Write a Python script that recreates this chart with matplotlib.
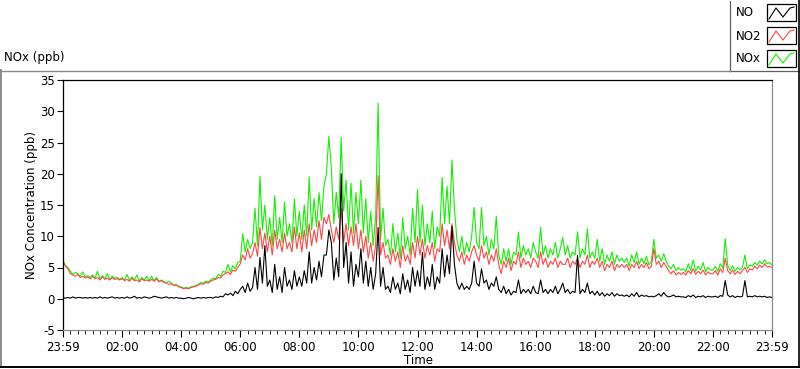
import numpy as np
import matplotlib
matplotlib.use('Agg')
import matplotlib.pyplot as plt
from matplotlib.lines import Line2D
from matplotlib.patches import Rectangle

plt.rcParams['font.family'] = ['DejaVu Sans']
plt.rcParams['axes.unicode_minus'] = False  # "-5" com hifen como no original

# concentracoes a cada 5 min, uma linha por hora (ppb)
no2 = [
    6.0, 5.2, 4.8, 4.0, 3.8, 3.6, 3.9, 3.4, 3.6, 3.3, 3.5, 3.2,
    3.6, 3.2, 3.4, 3.0, 3.5, 3.1, 3.3, 3.0, 3.4, 3.1, 3.2, 3.0,
    3.2, 2.9, 3.1, 2.8, 3.3, 2.9, 3.0, 2.7, 3.2, 2.9, 3.0, 2.8,
    3.1, 2.8, 3.2, 2.7, 2.9, 2.6, 2.5, 2.3, 2.4, 2.1, 2.2, 1.9,
    1.8, 1.6, 1.7, 1.6, 1.8, 1.9, 2.0, 2.2, 2.4, 2.3, 2.6, 2.5,
    2.8, 3.0, 3.1, 3.4, 3.3, 3.8, 4.0, 4.3, 3.9, 4.6, 4.4, 5.0,
    5.6, 7.0, 6.2, 8.0, 6.5, 7.2, 9.0, 6.8, 11.4, 8.0, 10.5, 7.5,
    10.0, 7.0, 11.0, 8.0, 9.5, 7.5, 10.5, 8.0, 9.0, 7.5, 11.5, 8.0,
    10.5, 7.5, 11.0, 8.0, 12.0, 8.5, 11.0, 9.0, 12.5, 9.5, 13.0, 12.0,
    13.5, 11.0, 9.0, 11.5, 9.5, 14.5, 9.0, 12.0, 8.5, 11.5, 8.5, 12.0,
    8.0, 11.0, 7.5, 10.0, 6.5, 9.0, 6.0, 8.5, 19.7, 7.0, 9.0, 6.5,
    7.0, 5.5, 8.0, 6.0, 7.5, 5.0, 8.5, 6.0, 7.0, 5.5, 9.0, 6.5,
    10.0, 7.0, 9.5, 6.5, 8.5, 7.0, 9.0, 6.0, 8.0, 7.5, 12.0, 8.5,
    11.0, 8.0, 12.0, 9.0, 7.0, 6.0, 7.5, 5.5, 7.0, 6.0, 7.5, 8.5,
    7.0, 6.0, 8.5, 6.5, 7.5, 5.5, 7.0, 6.0, 8.0, 5.5, 4.0, 6.0,
    5.0, 6.5, 4.5, 6.0, 5.5, 7.5, 5.0, 6.5, 5.5, 6.0, 5.0, 6.5,
    6.0, 5.0, 7.5, 5.5, 6.5, 5.0, 6.0, 5.5, 6.5, 5.0, 6.0, 5.5,
    5.5, 6.5, 5.0, 6.0, 5.5, 6.5, 5.0, 6.0, 5.5, 7.0, 5.0, 6.0,
    5.5, 6.5, 5.0, 6.0, 4.5, 5.5, 5.0, 6.0, 4.5, 5.5, 5.0, 5.5,
    5.0, 5.5, 4.5, 5.5, 5.0, 6.0, 4.8, 5.5, 5.0, 5.8, 4.8, 5.2,
    8.0, 5.5, 6.0, 5.0, 5.8, 5.2, 4.5, 4.0, 4.5, 3.8, 4.2, 3.9,
    4.2, 3.8, 4.5, 4.0, 4.8, 3.9, 4.4, 4.0, 4.6, 3.8, 4.3, 4.0,
    4.0, 4.5, 3.8, 4.8, 4.2, 6.5, 4.5, 4.0, 4.6, 3.9, 4.4, 4.0,
    4.5, 5.0, 4.2, 4.8, 4.6, 5.2, 4.8, 5.4, 5.0, 5.6, 5.1, 5.2, 5.0,
]
nox = [
    6.1, 5.3, 5.0, 4.4, 3.9, 4.2, 4.0, 3.6, 4.3, 3.5, 3.7, 3.4,
    3.8, 3.3, 4.4, 3.2, 3.7, 3.2, 4.0, 3.1, 3.6, 3.3, 3.4, 3.1,
    3.4, 3.0, 3.9, 2.9, 3.5, 3.0, 3.8, 2.8, 3.4, 3.0, 3.6, 2.9,
    3.6, 2.9, 3.4, 2.8, 3.0, 2.7, 2.6, 2.8, 2.5, 2.2, 2.3, 2.0,
    1.9, 1.7, 1.8, 1.7, 1.9, 2.0, 2.1, 2.3, 2.6, 2.5, 2.8, 2.7,
    3.0, 3.3, 3.2, 3.9, 3.6, 4.4, 4.2, 5.5, 4.3, 5.3, 4.8, 5.8,
    6.0, 10.4, 7.5, 9.5, 8.0, 9.0, 14.5, 8.5, 19.6, 11.0, 15.0, 9.5,
    13.0, 8.5, 16.5, 9.5, 13.0, 9.0, 15.5, 10.0, 12.0, 9.0, 16.0, 10.0,
    14.0, 9.5, 15.0, 10.0, 19.5, 11.0, 16.0, 11.5, 17.0, 12.5, 18.0, 20.0,
    26.0, 21.0, 12.0, 17.0, 13.0, 25.8, 14.0, 19.0, 11.0, 18.5, 10.5, 17.0,
    12.0, 19.0, 10.5, 16.0, 9.0, 14.0, 8.5, 13.0, 31.3, 9.5, 14.5, 8.5,
    9.5, 7.0, 12.0, 7.5, 10.5, 6.5, 13.0, 8.0, 10.0, 7.0, 14.5, 9.0,
    17.5, 9.0, 15.0, 8.5, 12.0, 9.0, 14.0, 8.0, 11.5, 10.0, 19.4, 12.0,
    18.0, 12.0, 22.2, 14.5, 9.5, 7.5, 10.0, 7.0, 9.0, 7.5, 10.0, 14.6,
    9.0, 8.0, 14.6, 8.5, 10.0, 7.0, 9.5, 8.0, 13.2, 7.0, 5.5, 8.0,
    6.0, 8.0, 5.5, 7.5, 7.0, 10.6, 6.5, 8.5, 7.0, 8.0, 6.5, 9.0,
    7.5, 6.5, 11.4, 7.0, 8.5, 6.5, 8.0, 7.0, 9.0, 6.5, 8.0, 9.8,
    7.0, 8.5, 6.5, 7.5, 7.0, 10.7, 6.5, 8.0, 7.0, 11.2, 6.5, 7.5,
    6.5, 9.5, 6.0, 8.0, 5.5, 7.0, 6.0, 7.5, 5.5, 7.0, 6.0, 6.5,
    5.8, 6.5, 5.2, 7.0, 5.8, 7.5, 5.5, 6.5, 5.6, 6.8, 5.4, 6.0,
    9.5, 6.5, 7.0, 6.0, 7.2, 6.0, 5.2, 4.8, 5.5, 4.5, 5.0, 4.6,
    4.8, 4.3, 5.6, 4.5, 6.2, 4.4, 5.2, 4.6, 5.8, 4.3, 5.0, 4.6,
    4.6, 5.2, 4.4, 5.6, 4.9, 9.6, 5.4, 4.5, 5.3, 4.4, 5.0, 4.6,
    5.0, 7.0, 4.8, 5.4, 5.2, 5.8, 5.4, 6.0, 5.6, 6.2, 5.6, 5.8, 5.4,
]
no = [
    0.2, 0.1, 0.2, 0.1, 0.3, 0.1, 0.2, 0.2, 0.1, 0.2, 0.1, 0.2,
    0.1, 0.2, 0.1, 0.3, 0.1, 0.2, 0.1, 0.2, 0.3, 0.1, 0.2, 0.1,
    0.2, 0.1, 0.3, 0.1, 0.2, 0.4, 0.1, 0.2, 0.1, 0.3, 0.2, 0.1,
    0.2, 0.4, 0.3, 0.2, 0.1, 0.2, 0.3, 0.1, 0.2, 0.1, 0.2, 0.1,
    0.1, 0.0, 0.1, 0.2, 0.1, 0.0, 0.1, 0.2, 0.1, 0.2, 0.1, 0.2,
    0.2, 0.1, 0.3, 0.2, 0.4, 0.3, 0.8, 0.6, 0.9, 0.5, 1.2, 0.8,
    1.5, 2.0, 1.0, 2.5, 1.2, 1.8, 5.0, 1.5, 6.6, 2.5, 8.5, 2.0,
    3.0, 1.0, 5.5, 1.5, 3.5, 1.0, 5.0, 2.0, 3.0, 1.5, 4.5, 2.0,
    3.5, 2.0, 4.5, 2.5, 7.5, 2.5, 5.0, 3.0, 6.0, 3.5, 7.0, 7.0,
    11.0, 9.0, 3.0, 6.5, 3.5, 20.0, 5.0, 9.0, 2.5, 7.5, 2.0, 5.5,
    3.5, 8.0, 2.5, 6.0, 2.0, 5.0, 1.5, 4.0, 11.4, 2.0, 5.0, 1.5,
    2.0, 1.0, 3.5, 1.5, 2.5, 0.8, 4.0, 1.5, 3.0, 1.0, 5.0, 2.0,
    4.5, 2.0, 7.4, 1.5, 3.5, 2.0, 5.5, 1.5, 3.5, 2.5, 8.0, 3.5,
    7.0, 4.0, 11.6, 5.5, 2.5, 1.5, 2.5, 1.5, 2.0, 1.5, 2.5, 6.0,
    2.5, 2.0, 4.8, 2.5, 3.0, 1.5, 2.5, 2.0, 3.5, 1.5, 1.0, 2.0,
    0.8, 1.5, 0.6, 1.2, 1.0, 3.0, 0.8, 1.5, 1.0, 1.5, 0.8, 2.0,
    1.0, 0.8, 3.0, 1.0, 1.5, 0.8, 1.5, 1.0, 2.0, 0.8, 1.5, 2.5,
    1.0, 1.5, 0.8, 1.2, 1.0, 6.9, 0.8, 1.5, 1.0, 2.5, 0.8, 1.2,
    0.6, 1.2, 0.5, 1.0, 0.4, 0.8, 0.5, 1.0, 0.4, 0.8, 0.5, 0.6,
    0.4, 0.6, 0.3, 0.8, 0.4, 1.0, 0.3, 0.6, 0.4, 0.5, 0.3, 0.4,
    0.3, 0.5, 0.8, 0.4, 1.0, 0.5, 0.3, 0.4, 0.6, 0.3, 0.4, 0.3,
    0.3, 0.2, 0.5, 0.3, 0.6, 0.2, 0.4, 0.3, 0.5, 0.2, 0.4, 0.3,
    0.3, 0.4, 0.2, 0.5, 0.4, 2.9, 0.6, 0.3, 0.5, 0.2, 0.4, 0.3,
    0.4, 2.9, 0.3, 0.4, 0.3, 0.5, 0.3, 0.4, 0.3, 0.4, 0.2, 0.3, 0.2,
]
tick_labels = ['23:59', '02:00', '04:00', '06:00', '08:00', '10:00', '12:00',
               '14:00', '16:00', '18:00', '20:00', '22:00', '23:59']
series_names = ['NO', 'NO2', 'NOx']
series_colors = ['black', '#ff4646', '#14f000']

horas = np.arange(len(no2)) * 5 / 60.0  # amostragem de 5 min

W, H = 800, 369
fig = plt.figure(figsize=(W / 100, H / 100), dpi=100)
fig.patch.set_facecolor('white')

ax = fig.add_axes([63 / W, 1 - 330 / H, 709 / W, 250 / H])
ax.plot(horas, nox, color=series_colors[2], lw=0.8)
ax.plot(horas, no2, color=series_colors[1], lw=0.8)
ax.plot(horas, no, color=series_colors[0], lw=0.8)

ax.set_xlim(0, 24)
ax.set_ylim(-5, 35)
ax.set_xticks(np.arange(0, 25, 2))
ax.set_xticklabels(tick_labels)
ax.set_xticks(np.arange(0, 24.01, 0.25), minor=True)
ax.set_yticks(np.arange(-5, 36, 5))
ax.tick_params(axis='both', labelsize=8.5, color='black', width=0.8)
ax.tick_params(axis='x', which='major', length=5, pad=3)
ax.tick_params(axis='x', which='minor', length=3)
ax.tick_params(axis='y', length=4, pad=2)

for lado in ['top', 'left']:
    ax.spines[lado].set_color('black')
for lado in ['right', 'bottom']:
    ax.spines[lado].set_color('#8a8a8a')
for s in ax.spines.values():
    s.set_linewidth(0.9)

fig.text(32 / W, 1 - 205 / H, 'NOx Concentration (ppb)', rotation=90,
         ha='center', va='center', fontsize=8.5)
fig.text(418 / W, 1 - 361 / H, 'Time', ha='center', va='center', fontsize=8.5)
fig.text(4 / W, 1 - 58 / H, 'NOx (ppb)', ha='left', va='center', fontsize=8.5)

# moldura do painel
def linha(x0, y0, x1, y1, cor, lw=1.0):
    fig.add_artist(Line2D([x0 / W, x1 / W], [1 - y0 / H, 1 - y1 / H],
                          color=cor, lw=lw, transform=fig.transFigure))

linha(0, 70.5, 730, 70.5, '#8a8a8a')
linha(0.7, 70, 0.7, 367, '#8a8a8a', 1.4)
linha(0, 367, 800, 367, 'black', 1.4)
linha(798.5, 0, 798.5, 367, 'black', 1.2)

# legenda
lg = fig.add_axes([730 / W, 1 - 71 / H, 69 / W, 71 / H])
lg.set_xlim(0, 69)
lg.set_ylim(71, 0)
lg.set_xticks([])
lg.set_yticks([])
for lado, s in lg.spines.items():
    s.set_color('#606060' if lado == 'left' or lado == 'bottom' else 'white')
    s.set_linewidth(0.9)
for i, (nome, cor) in enumerate(zip(series_names, series_colors)):
    y0 = 4 + i * 23
    lg.text(6, y0 + 9, nome, ha='left', va='center', fontsize=8.5)
    lg.add_patch(Rectangle((37, y0), 29, 17, fill=False, ec='black', lw=0.9))
    lg.plot([39, 46, 53, 60, 64], [y0 + 15, y0 + 4, y0 + 13, y0 + 4, y0 + 3],
            color=cor, lw=0.8)

fig.savefig('out.png', dpi=100)
